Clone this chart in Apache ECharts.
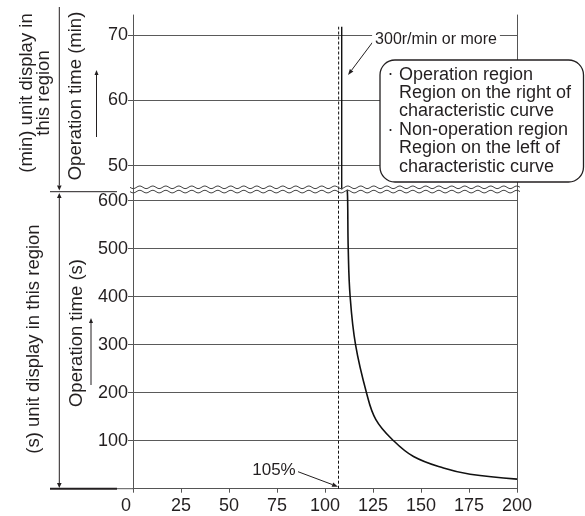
<!DOCTYPE html>
<html><head><meta charset="utf-8">
<script src="https://cdn.jsdelivr.net/npm/echarts@6/dist/echarts.min.js"></script>
<style>html,body{margin:0;padding:0;background:#fff}#c{width:585px;height:516px}</style>
</head><body><div id="c"></div>
<script>
// ---- data ----
const xTicks = [0, 25, 50, 75, 100, 125, 150, 175, 200];
const minTicks = [50, 60, 70];
const secTicks = [100, 200, 300, 400, 500, 600];
const curvePct = [111.6, 111.8, 112.1, 113.1, 115.9, 121.6, 126.5, 135.7, 146.1, 161.7, 175.6, 200];
const curveSec = [623, 600, 500, 400, 300, 200, 144, 100, 67, 43, 30, 20];
const upperPct = [108.7, 108.7];
const upperMin = [46.35, 71.3];
const ratedPct = [107.1, 107.1];
const ratedMin = [46.35, 71.3];
const minRange = [46.35, 73.1];
const secRange = [0, 623.3];
const xRange = [0, 200];

// ---- styles ----
const FONT = "'Liberation Sans', Arial, sans-serif";
const TXT = '#231f20';
const GRID = '#5a5a5a';
const AX = '#555';

const chart = echarts.init(document.getElementById('c'), null, {renderer: 'canvas'});

function zip(a, b) { return a.map((v, i) => [v, b[i]]); }

function arrow(x1, y1, x2, y2, opt) {
  opt = opt || {};
  const head = opt.head || 6, hw = opt.hw || 2.2, lw = opt.lw || 1, col = opt.color || TXT;
  const dx = x2 - x1, dy = y2 - y1, L = Math.hypot(dx, dy);
  const ux = dx / L, uy = dy / L;
  const bx = x2 - ux * head, by = y2 - uy * head;
  const els = [{
    type: 'line', z: 100, silent: true,
    shape: {x1: x1, y1: y1, x2: bx, y2: by},
    style: {stroke: col, lineWidth: lw}
  }, {
    type: 'polygon', z: 100, silent: true,
    shape: {points: [[x2, y2], [bx - uy * hw, by + ux * hw], [bx + uy * hw, by - ux * hw]]},
    style: {fill: col}
  }];
  if (opt.both) {
    const cx = x1 + ux * head, cy = y1 + uy * head;
    els[0].shape.x1 = cx; els[0].shape.y1 = cy;
    els.push({
      type: 'polygon', z: 100, silent: true,
      shape: {points: [[x1, y1], [cx - uy * hw, cy + ux * hw], [cx + uy * hw, cy - ux * hw]]},
      style: {fill: col}
    });
  }
  return els;
}

function wave(x0, x1, y, amp, period) {
  const pts = [];
  for (let x = x0; x <= x1; x += 1) {
    pts.push([x, y + amp * Math.sin((x - x0) / period * 2 * Math.PI)]);
  }
  return {type: 'polyline', z: 100, silent: true, shape: {points: pts},
    style: {stroke: '#444', lineWidth: 1, fill: null}};
}

function vtext(t, x, y, size) {
  return {type: 'text', z: 100, silent: true, x: x, y: y, rotation: Math.PI / 2,
    style: {text: t, fontFamily: FONT, fontSize: size || 18.5, fill: TXT, align: 'center', verticalAlign: 'middle'}};
}

const labelStyle = {color: TXT, fontFamily: FONT, fontSize: 18};

const graphics = [].concat(
  [wave(130, 520, 187.3, 1.3, 13), wave(130, 520, 191.6, 1.3, 13)],
  // left bracket annotations
  arrow(59.3, 7, 59.3, 190.5, {head: 5, hw: 2.3}),
  [{type: 'line', z: 100, silent: true, shape: {x1: 50, y1: 191.7, x2: 117, y2: 191.7}, style: {stroke: TXT, lineWidth: 1}}],
  arrow(59.3, 193, 59.3, 488, {head: 5, hw: 2.3, both: true}),
  [{type: 'line', z: 100, silent: true, shape: {x1: 50, y1: 488.7, x2: 117, y2: 488.7}, style: {stroke: TXT, lineWidth: 2}},
   {type: 'line', z: 100, silent: true, shape: {x1: 117, y1: 488.7, x2: 133, y2: 488.7}, style: {stroke: AX, lineWidth: 1}}],
  [vtext('(min) unit display in', 26.5, 93), vtext('this region', 44, 93),
   vtext('Operation time (min)', 76, 96),
   vtext('(s) unit display in this region', 34, 339),
   vtext('Operation time (s)', 77, 333)],
  arrow(96.5, 137, 96.5, 70, {head: 5, hw: 2}),
  arrow(91, 385, 91, 318, {head: 5, hw: 2}),
  // 300r/min label
  [{type: 'text', z: 101, silent: true, x: 436, y: 40,
    style: {text: '300r/min or more', fontFamily: FONT, fontSize: 16, fill: TXT, align: 'center', verticalAlign: 'middle',
      backgroundColor: '#fff', padding: [2, 3]}}],
  arrow(375, 39, 348, 75, {head: 6, hw: 2.2}),
  // 105% label
  [{type: 'text', z: 101, silent: true, x: 274, y: 470,
    style: {text: '105%', fontFamily: FONT, fontSize: 17, fill: TXT, align: 'center', verticalAlign: 'middle'}}],
  arrow(298, 471.7, 338, 486.7, {head: 6, hw: 2.2}),
  // callout box
  [{type: 'rect', z: 100, silent: true, shape: {x: 380, y: 60, width: 203.5, height: 122, r: 15},
    style: {fill: '#fff', stroke: TXT, lineWidth: 1.3}},
   {type: 'text', z: 101, silent: true, x: 399, y: 65.5,
    style: {text: 'Operation region\nRegion on the right of\ncharacteristic curve\nNon-operation region\nRegion on the left of\ncharacteristic curve',
      fontFamily: FONT, fontSize: 18, lineHeight: 18.4, fill: TXT, align: 'left', verticalAlign: 'top'}},
   {type: 'text', z: 101, silent: true, x: 390.5, y: 74.5, style: {text: '·', fontFamily: FONT, fontSize: 18, fill: TXT, align: 'center', verticalAlign: 'middle'}},
   {type: 'text', z: 101, silent: true, x: 390.5, y: 130, style: {text: '·', fontFamily: FONT, fontSize: 18, fill: TXT, align: 'center', verticalAlign: 'middle'}}
  ]
);

const option = {
  animation: false,
  backgroundColor: '#fff',
  grid: [
    {left: 133, right: 68, top: 15, height: 174.5},
    {left: 133, right: 68, top: 189.5, height: 299.2}
  ],
  xAxis: [
    {type: 'value', gridIndex: 0, min: xRange[0], max: xRange[1], interval: 25, show: false},
    {type: 'value', gridIndex: 1, min: xRange[0], max: xRange[1], interval: 25,
      axisLine: {show: true, lineStyle: {color: AX, width: 1}},
      axisTick: {show: true, length: 4, lineStyle: {color: AX}},
      splitLine: {show: false},
      axisLabel: Object.assign({}, labelStyle, {margin: 8,
        customValues: xTicks,
        formatter: v => v === 0 ? '{z|0}' : String(v),
        rich: {z: {color: TXT, fontFamily: FONT, fontSize: 18, padding: [0, 14, 0, 0]}}})}
  ],
  yAxis: [
    {type: 'value', gridIndex: 0, min: minRange[0], max: minRange[1],
      axisLine: {show: true, lineStyle: {color: AX, width: 1}},
      axisTick: {show: true, length: 5, customValues: minTicks, lineStyle: {color: AX}},
      splitLine: {show: false},
      axisLabel: Object.assign({}, labelStyle, {margin: 5, customValues: minTicks})},
    {type: 'value', gridIndex: 0, position: 'right', min: minRange[0], max: minRange[1],
      axisLine: {show: true, lineStyle: {color: AX, width: 1}},
      axisTick: {show: false}, axisLabel: {show: false}, splitLine: {show: false}},
    {type: 'value', gridIndex: 1, min: secRange[0], max: secRange[1],
      axisLine: {show: true, lineStyle: {color: AX, width: 1}},
      axisTick: {show: true, length: 5, customValues: secTicks, lineStyle: {color: AX}},
      splitLine: {show: false},
      axisLabel: Object.assign({}, labelStyle, {margin: 5, customValues: secTicks})},
    {type: 'value', gridIndex: 1, position: 'right', min: secRange[0], max: secRange[1],
      axisLine: {show: true, lineStyle: {color: AX, width: 1}},
      axisTick: {show: false}, axisLabel: {show: false}, splitLine: {show: false}}
  ],
  series: [
    {type: 'line', xAxisIndex: 0, yAxisIndex: 0, data: zip(upperPct, upperMin), symbol: 'none',
      lineStyle: {color: '#111', width: 1.4}, z: 5,
      markLine: {silent: true, symbol: 'none', label: {show: false},
        lineStyle: {color: GRID, width: 1.2, type: 'solid'},
        data: minTicks.map(v => ({yAxis: v}))}},
    {type: 'line', xAxisIndex: 0, yAxisIndex: 0, data: zip(ratedPct, ratedMin), symbol: 'none',
      lineStyle: {color: '#111', width: 1, type: [3, 2]}, z: 5},
    {type: 'line', xAxisIndex: 1, yAxisIndex: 2, data: zip(curvePct, curveSec), symbol: 'none',
      smooth: 0.4,
      lineStyle: {color: '#111', width: 1.6}, z: 5,
      markLine: {silent: true, symbol: 'none', label: {show: false},
        lineStyle: {color: GRID, width: 1.2, type: 'solid'},
        data: secTicks.map(v => ({yAxis: v}))}},
    {type: 'line', xAxisIndex: 1, yAxisIndex: 2, data: [], symbol: 'none',
      markLine: {silent: true, symbol: 'none', label: {show: false},
        lineStyle: {color: '#111', width: 1, type: [3, 2]},
        data: [{xAxis: ratedPct[0]}]}}
  ],
  graphic: graphics
};
chart.setOption(option);
</script>
</body></html>
